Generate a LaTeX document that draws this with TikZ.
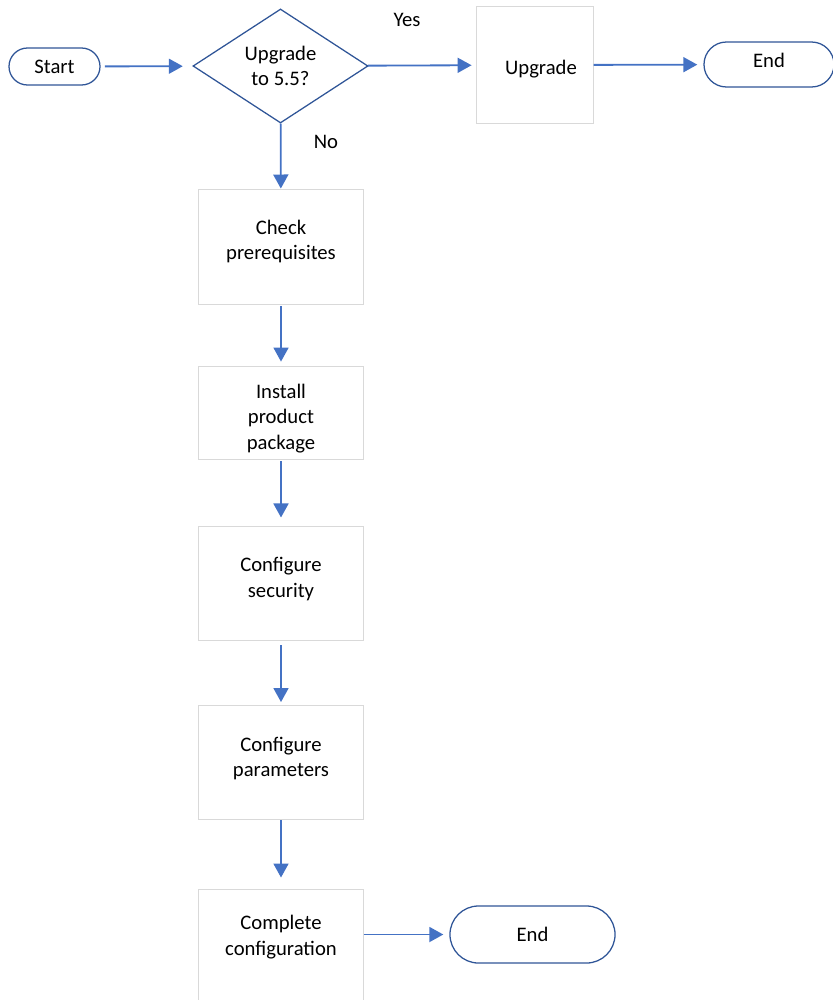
\documentclass[tikz,border=0pt]{standalone}
\usepackage{fontspec}
\setmainfont{Carlito}
\usetikzlibrary{shapes.geometric,shapes.misc,arrows.meta}
\definecolor{flowblue}{RGB}{68,114,196}
\definecolor{termblue}{RGB}{47,85,151}
\definecolor{boxgray}{RGB}{217,217,217}
\newcommand{\lifted}[2]{\raisebox{#1}[\height][\depth]{\begin{tabular}{@{}c@{}}#2\end{tabular}}}
\begin{document}
\begin{tikzpicture}[x=0.025cm,y=-0.025cm,
    every node/.style={font=\fontsize{14.7}{18.1}\selectfont,align=center},
    term/.style={draw=termblue,line width=0.9pt,rounded rectangle,inner sep=0pt},
    proc/.style={draw=boxgray,line width=0.7pt,minimum width=4.1cm,minimum height=2.85cm,inner sep=0pt},
    flow/.style={draw=flowblue,line width=1.3pt,-{Triangle[length=0.35cm,width=0.375cm]}}]
    \useasboundingbox (0,0) rectangle (833,1000);
    \node[term,minimum width=2.275cm,minimum height=0.925cm] (start) at (54.5,66.5) {Start};
    \node[draw=termblue,line width=0.9pt,diamond,inner sep=0pt,minimum width=4.375cm,minimum height=2.85cm] (ask) at (280.5,66) {Upgrade\\to 5.5?};
    \node[proc,minimum width=2.9cm,minimum height=2.9cm] (upg) at (535,65) {\lifted{-2.8pt}{\hspace*{8.5pt}Upgrade}};
    \node[term,minimum width=3.25cm,minimum height=1.125cm] (end1) at (769,64.5) {\lifted{1.4pt}{End}};
    \node[proc] (check) at (281,247) {\lifted{3.6pt}{Check\\prerequisites}};
    \node[proc,minimum height=2.325cm] (inst) at (281,412.5) {\lifted{-4.3pt}{Install\\product\\package}};
    \node[proc] (sec) at (281,583) {\lifted{2.5pt}{Configure\\security}};
    \node[proc] (par) at (281,762.5) {\lifted{2.5pt}{Configure\\parameters}};
    \node[proc,minimum height=2.8cm] (done) at (281,945) {\lifted{5.3pt}{Complete\\configuration}};
    \node[term,minimum width=4.125cm,minimum height=1.425cm] (end2) at (532.5,934.5) {End};
    \node (yes) at (407,20) {Yes};
    \node (no) at (326,142) {No};
    % arrows
    \draw[flow,shorten <=3pt,shorten >=7pt] (start) -- (ask);
    \draw[flow,shorten >=3.5pt] (ask) -- (upg);
    \draw[flow,shorten >=4.3pt] (upg) -- (end1);
    \draw[flow,shorten >=0.7pt] (ask) -- (check);
    \draw[flow,shorten <=1.4pt,shorten >=2.8pt] (check) -- (inst);
    \draw[flow,shorten <=1.4pt,shorten >=5.7pt] (inst) -- (sec);
    \draw[flow,shorten <=3.5pt,shorten >=2.1pt] (sec) -- (par);
    \draw[flow,shorten >=7.8pt] (par) -- (done);
    \draw[flow,shorten >=4.3pt] (done.east |- end2) -- (end2);
\end{tikzpicture}
\end{document}
